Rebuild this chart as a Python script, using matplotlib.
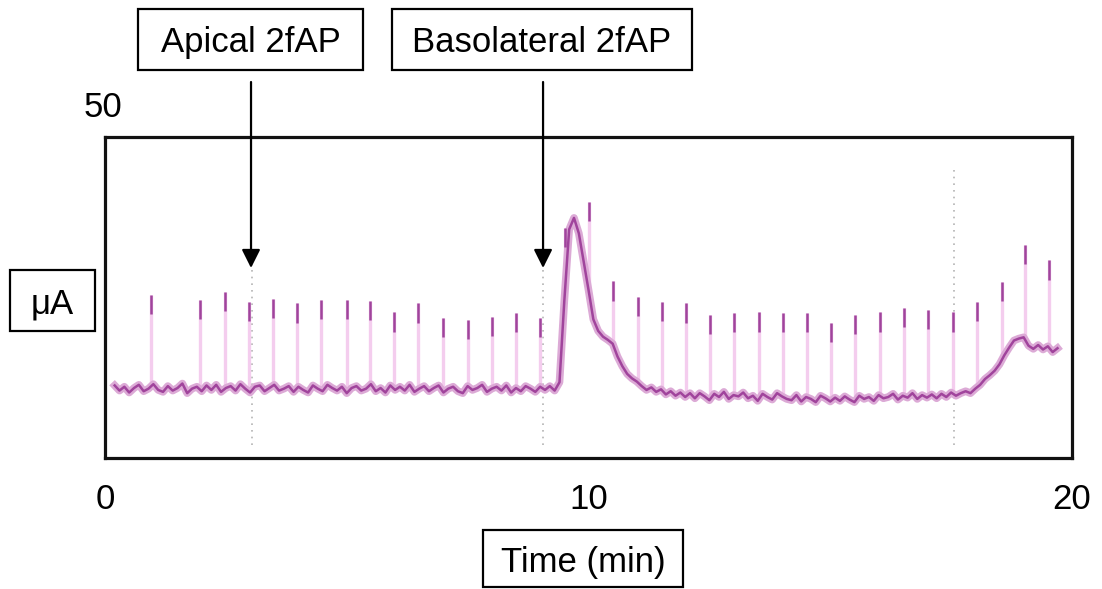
import numpy as np
import matplotlib
matplotlib.use("Agg")
import matplotlib.pyplot as plt
from matplotlib.patches import Rectangle

plt.rcParams['font.family'] = ['Liberation Sans', 'DejaVu Sans']

# ---------------- data ----------------
t_start = 0.2      # min
t_step = 0.1       # min
current_uA = [
    # 0.2 - 9.1
    11.3, 10.5, 11.1, 10.2, 10.9, 11.4, 10.4, 10.8, 11.5, 10.6,
    10.3, 11.2, 10.5, 10.9, 11.6, 10.1, 10.8, 11.1, 10.4, 11.3,
    10.6, 11.4, 10.3, 10.9, 11.2, 10.5, 11.5, 10.8, 10.2, 11.1,
    11.3, 10.4, 10.9, 11.4, 10.5, 10.8, 11.2, 10.3, 11.1, 10.6,
    10.2, 11.3, 10.8, 10.4, 11.4, 10.9, 10.5, 11.1, 10.1, 10.9,
    11.2, 10.5, 10.8, 11.5, 10.4, 10.9, 10.2, 11.3, 10.6, 11.1,
    10.5, 11.4, 10.3, 10.8, 11.2, 10.4, 10.9, 11.3, 10.2, 10.8,
    11.1, 10.4, 10.1, 11.2, 10.6, 10.9, 11.4, 10.3, 10.8, 11.1,
    10.5, 11.3, 10.2, 10.9, 10.4, 11.2, 10.8, 10.3, 11.1, 10.6,
    # 9.2 - 9.3
    11.2, 10.5,
    # 9.4 - 12.1 (basolateral response)
    11.8, 24.5, 35.6, 37.4, 35.0, 30.6, 26.2, 21.6, 19.8, 18.9,
    18.4, 17.8, 15.8, 14.3, 13.1, 12.4, 11.9, 11.2, 10.6, 11.0,
    10.3, 10.7, 9.9, 10.4, 9.7, 10.2, 9.5, 10.1,
    # 12.2 - 17.1
    9.3, 10.1, 9.6, 9.0, 10.0, 9.5, 10.3, 9.2, 9.8, 9.6,
    10.2, 9.3, 9.7, 8.9, 10.0, 9.5, 9.1, 10.1, 9.6, 9.2,
    9.0, 9.8, 8.8, 9.5, 9.2, 8.7, 9.7, 9.3, 8.8, 9.4,
    8.9, 9.6, 9.1, 8.7, 9.7, 9.2, 9.5, 8.9, 9.8, 9.3,
    9.5, 10.0, 9.1, 9.7, 9.4, 10.1, 9.2, 9.8, 9.4, 9.9,
    # 17.2 - 17.9
    9.3, 10.0, 9.5, 10.2, 9.7, 10.1, 10.4, 10.1,
    # 18.0 - 19.7
    10.8, 11.4, 12.3, 12.9, 13.6, 14.6, 16.0, 17.2, 18.3, 18.6,
    18.8, 17.5, 17.0, 17.6, 16.9, 17.4, 16.5, 17.1,
]

spike_times = [0.96, 1.96, 2.48, 2.98, 3.47, 3.97, 4.47, 5.00, 5.48, 5.98,
               6.47, 6.99, 7.50, 8.00, 8.50, 9.00, 9.52, 10.01, 10.50, 11.02,
               11.52, 12.02, 12.51, 13.01, 13.53, 14.02, 14.52, 15.02, 15.51,
               16.03, 16.52, 17.02, 17.54, 18.04, 18.55, 19.03, 19.52]
spike_tops = [25.4, 24.6, 25.9, 24.3, 24.8, 24.1, 24.6, 24.6, 24.5, 22.7,
              24.1, 21.8, 21.5, 22.0, 22.6, 21.8, 35.8, 39.9, 27.5, 25.1,
              24.3, 24.1, 22.3, 22.6, 22.7, 22.6, 22.6, 21.0, 22.3,
              22.7, 23.4, 23.1, 22.7, 24.3, 27.4, 33.2, 30.8]

marker_times = [3.04, 9.06, 17.56]
marker_tops = [29.8, 29.8, 45.2]
arrow_labels = ["Apical 2fAP", "Basolateral 2fAP"]
arrow_times = [3.02, 9.06]
x_ticks = [0, 10, 20]
x_tick_labels = ["0", "10", "20"]
y_scale_label = "50"
y_unit_label = "μA"
x_label = "Time (min)"

# ---------------- figure ----------------
W, H = 1102, 589
fig = plt.figure(figsize=(W / 100, H / 100), dpi=100)
fig.patch.set_facecolor('white')

def fx(px):
    return px / W

def fy(py):
    return 1 - py / H

ax = fig.add_axes([fx(105), fy(458), fx(1072) - fx(105), fy(137) - fy(458)])
ax.set_xlim(0, 20)
ax.set_ylim(0, 50)

t = np.round(t_start + t_step * np.arange(len(current_uA)), 3)
y = np.array(current_uA)

purple = '#a0449c'
pink = '#f4cdee'

# dotted event markers
for mt, mtop in zip(marker_times, marker_tops):
    ax.plot([mt, mt], [2.0, mtop], color='#b4b4b4', lw=1.2,
            linestyle=(0, (1, 3)), zorder=1)

# spikes (pink shafts with darker tips)
for st, top in zip(spike_times, spike_tops):
    base = np.interp(st, t, y)
    ax.plot([st, st], [base, top], color=pink, lw=2.4, zorder=2,
            solid_capstyle='butt')
for st, top in zip(spike_times, spike_tops):
    ax.plot([st, st], [top - 3.0, top], color=purple, lw=1.8, zorder=4,
            solid_capstyle='butt')

# trace
ax.plot(t, y, color='#dcaad6', lw=5.5, zorder=3, solid_joinstyle='round')
ax.plot(t, y, color=purple, lw=1.8, zorder=4)

for s in ax.spines.values():
    s.set_linewidth(2.3)
    s.set_color('#111111')
ax.set_yticks([])
ax.set_xticks(x_ticks)
ax.set_xticklabels(x_tick_labels)
ax.tick_params(axis='x', length=0, pad=18, labelsize=25)

# arrows from the labels
tip_value = (458 - 268) / 321 * 50
for at in arrow_times:
    ax.annotate('', xy=(at, tip_value),
                xytext=(at, 1 - 82 / H),
                textcoords=('data', 'figure fraction'),
                arrowprops=dict(arrowstyle='-|>', color='black', lw=1.6,
                                mutation_scale=28, shrinkA=0, shrinkB=0),
                annotation_clip=False)

def boxed(text, x0, y0, x1, y1, baseline):
    fig.patches.append(Rectangle((fx(x0), fy(y1)), fx(x1) - fx(x0), fy(y0) - fy(y1),
                                 transform=fig.transFigure, fill=False,
                                 edgecolor='black', lw=1.6))
    fig.text(fx((x0 + x1) / 2), fy(baseline), text, ha='center', va='baseline',
             fontsize=25)

boxed(arrow_labels[0], 138, 9, 363, 70, 52)
boxed(arrow_labels[1], 392, 9, 692, 70, 52)
boxed(y_unit_label, 10, 270, 95, 331, 313)
boxed(x_label, 483, 530, 683, 587, 572)
fig.text(fx(102.5), fy(117), y_scale_label, ha='center', va='baseline', fontsize=25)

fig.savefig('out.png', dpi=100)
